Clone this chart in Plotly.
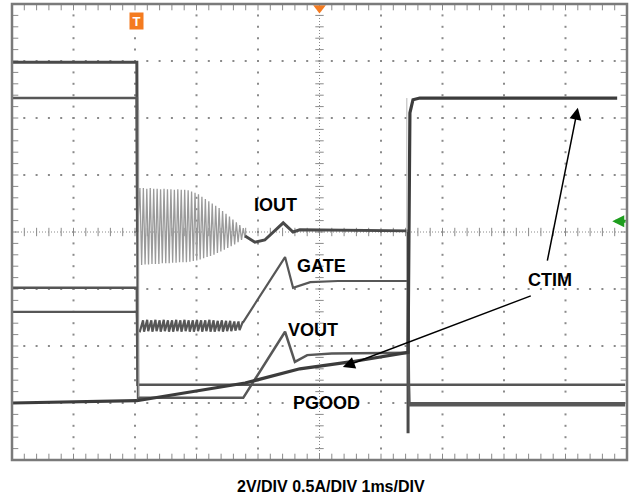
import numpy as np
import plotly.graph_objects as go

# ---------------- data (time in divisions of 1 ms, level in divisions) ----------------
T_TRIG = 2.03
T_STOP = 6.44

# IOUT
iout_pre_t = [0.00, 2.03, 2.04]
iout_pre_v = [2.98, 2.98, 0.00]
iout_osc_hi = [0.77, 0.77, 0.76, 0.77, 0.76, 0.76, 0.75, 0.76, 0.75, 0.75, 0.74, 0.75, 0.74, 0.74, 0.73,
               0.71, 0.69, 0.66, 0.62, 0.58, 0.54, 0.50, 0.46, 0.42, 0.37, 0.32, 0.27, 0.22, 0.17, 0.12, 0.07]
iout_osc_lo = [-0.58, -0.57, -0.57, -0.56, -0.56, -0.56, -0.55, -0.55, -0.55, -0.54, -0.54, -0.53, -0.53, -0.53, -0.52,
               -0.51, -0.50, -0.48, -0.46, -0.44, -0.42, -0.40, -0.37, -0.34, -0.31, -0.28, -0.25, -0.22, -0.18, -0.14, -0.10]
iout_post_t = [3.79, 3.95, 4.11, 4.41, 4.57, 4.68, 6.44, 6.44]
iout_post_v = [-0.07, -0.18, -0.14, 0.16, 0.00, 0.04, 0.02, -3.53]

# GATE
gate_pre_t = [0.00, 2.03, 2.04]
gate_pre_v = [-1.40, -1.40, -1.72]
gate_saw_hi = [-1.55, -1.54, -1.55, -1.54, -1.55, -1.54, -1.55, -1.55, -1.54, -1.55, -1.54, -1.55, -1.55,
               -1.54, -1.55, -1.55, -1.54, -1.55, -1.56, -1.55, -1.56, -1.56, -1.57, -1.57, -1.58]
gate_saw_lo = [-1.74, -1.75, -1.74, -1.75, -1.74, -1.75, -1.74, -1.75, -1.75, -1.74, -1.75, -1.74, -1.75,
               -1.75, -1.74, -1.75, -1.74, -1.75, -1.75, -1.74, -1.75, -1.74, -1.74, -1.73, -1.72]
gate_post_t = [3.76, 4.44, 4.57, 4.85, 5.30, 6.44, 6.46, 9.97]
gate_post_v = [-1.58, -0.44, -0.98, -0.88, -0.86, -0.86, -3.00, -3.00]

# VOUT
vout_t = [0.00, 2.03, 2.05, 3.76, 4.44, 4.60, 4.80, 5.20, 6.44, 6.46, 9.97]
vout_v = [2.35, 2.35, -2.91, -2.91, -1.75, -2.28, -2.16, -2.13, -2.12, -3.04, -3.04]

# PGOOD
pgood_t = [0.00, 2.03, 2.04, 9.97]
pgood_v = [-0.98, -0.98, -2.68, -2.68]

# CTIM
ctim_t = [0.00, 2.03, 3.79, 4.68, 5.50, 6.44, 6.47, 6.52, 6.63, 9.84]
ctim_v = [-3.00, -2.96, -2.65, -2.40, -2.28, -2.11, 2.09, 2.32, 2.35, 2.35]

labels = ["IOUT", "GATE", "VOUT", "PGOOD", "CTIM"]
label_t = [4.28, 5.04, 4.89, 5.11, 8.75]
label_v = [0.47, -0.60, -1.72, -3.00, -0.84]

caption = "2V/DIV 0.5A/DIV 1ms/DIV"

# ---------------- build ----------------
TRACE = "#4a4a4a"
GRID = "#8a8a8a"

fig = go.Figure()

# grid dots on major divisions
gx, gy = [], []
minor_x = np.arange(0, 10.001, 0.2)
minor_y = np.arange(-4, 4.001, 0.2)
for xv in range(1, 10):
    if xv == 5:
        continue
    gx += [xv] * len(minor_y)
    gy += list(minor_y)
for yv in range(-3, 4):
    if yv == 0:
        continue
    gx += list(minor_x)
    gy += [yv] * len(minor_x)
fig.add_trace(go.Scatter(x=gx, y=gy, mode="markers",
                         marker=dict(symbol="square", size=2, color=GRID, line=dict(width=0)),
                         hoverinfo="skip", showlegend=False))

# centre-line ticks
fig.add_trace(go.Scatter(x=[5] * len(minor_y), y=list(minor_y), mode="markers",
                         marker=dict(symbol="line-ew", size=6, line=dict(width=1, color=GRID)),
                         hoverinfo="skip", showlegend=False))
fig.add_trace(go.Scatter(x=list(minor_x), y=[0] * len(minor_x), mode="markers",
                         marker=dict(symbol="line-ns", size=6, line=dict(width=1, color=GRID)),
                         hoverinfo="skip", showlegend=False))
# frame ticks
fig.add_trace(go.Scatter(x=[0] * len(minor_y) + [10] * len(minor_y), y=list(minor_y) * 2, mode="markers",
                         marker=dict(symbol="line-ew", size=9, line=dict(width=1, color=GRID)),
                         hoverinfo="skip", showlegend=False))
fig.add_trace(go.Scatter(x=list(minor_x) * 2, y=[4] * len(minor_x) + [-4] * len(minor_x), mode="markers",
                         marker=dict(symbol="line-ns", size=9, line=dict(width=1, color=GRID)),
                         hoverinfo="skip", showlegend=False))

def line(t, v, color=TRACE, width=2.5):
    fig.add_trace(go.Scatter(x=t, y=v, mode="lines", line=dict(color=color, width=width),
                             hoverinfo="skip", showlegend=False))

# IOUT oscillation
n = len(iout_osc_hi)
tt = np.linspace(2.08, 3.76, n)
half = (tt[1] - tt[0]) / 2
osc_t, osc_v = [2.04], [0.0]
for i in range(n):
    osc_t += [tt[i], tt[i] + half]
    osc_v += [iout_osc_hi[i], iout_osc_lo[i]]
osc_t.append(3.79)
osc_v.append(-0.07)
line(osc_t, osc_v, color="#9a9a9a", width=1.3)

line(iout_pre_t, iout_pre_v, width=3)
line(iout_post_t, iout_post_v, width=3)

# GATE with sawtooth
m = len(gate_saw_hi)
st = np.linspace(2.08, 3.70, m)
per = st[1] - st[0]
g_t = list(gate_pre_t)
g_v = list(gate_pre_v)
for i in range(m):
    g_t += [st[i], st[i] + 0.75 * per]
    g_v += [gate_saw_lo[i], gate_saw_hi[i]]
g_t += gate_post_t
g_v += gate_post_v
line(g_t, g_v, color="#575757", width=2.2)

line(vout_t, vout_v, color="#575757", width=2.5)
line(pgood_t, pgood_v, color="#555555", width=2.5)
line(ctim_t, ctim_v, color="#3c3c3c", width=3.2)

# faint edge traces
line([6.42, 6.42], [2.35, 0.0], color="#b5b5b5", width=1)
line([2.06, 2.06], [2.14, -2.9], color="#a0a0a0", width=1)

# top orange marker
fig.add_trace(go.Scatter(x=[5.0], y=[3.93], mode="markers", cliponaxis=False,
                         marker=dict(symbol="triangle-down", size=11, color="#F47B20"),
                         hoverinfo="skip", showlegend=False))

annotations = []
for txt, tx, ty in zip(labels, label_t, label_v):
    annotations.append(dict(x=tx, y=ty, xref="x", yref="y", text="<b>%s</b>" % txt, showarrow=False,
                            font=dict(family="Liberation Sans, Arial", size=18, color="#000000")))

# CTIM arrows
annotations.append(dict(x=9.20, y=2.18, ax=8.70, ay=-0.53, xref="x", yref="y", axref="x", ayref="y",
                        text="", showarrow=True, arrowhead=2, arrowsize=1.6, arrowwidth=1.5, arrowcolor="#000000"))
annotations.append(dict(x=5.38, y=-2.37, ax=8.46, ay=-1.11, xref="x", yref="y", axref="x", ayref="y",
                        text="", showarrow=True, arrowhead=2, arrowsize=1.6, arrowwidth=1.5, arrowcolor="#000000"))
# green ground arrow
annotations.append(dict(x=9.76, y=0.19, ax=10.0, ay=0.19, xref="x", yref="y", axref="x", ayref="y",
                        text="", showarrow=True, arrowhead=2, arrowsize=0.8, arrowwidth=3, arrowcolor="#1e9e1e"))
# trigger marker
annotations.append(dict(x=T_TRIG, y=3.70, xref="x", yref="y", text="<b>T</b>", showarrow=False,
                        font=dict(family="Liberation Sans, Arial", size=13, color="#ffffff"),
                        bgcolor="#F47B20", width=13, height=16, borderpad=0))
# caption
annotations.append(dict(x=0.519, y=-0.059, xref="paper", yref="paper", text="<b>%s</b>" % caption,
                        showarrow=False, yanchor="middle",
                        font=dict(family="Liberation Sans, Arial", size=16, color="#000000")))

shapes = [
    dict(type="line", xref="x", yref="y", x0=5, x1=5, y0=-4, y1=4,
         line=dict(color=GRID, width=1, dash="1px,2px"), layer="below"),
    dict(type="line", xref="x", yref="y", x0=0, x1=10, y0=0, y1=0,
         line=dict(color=GRID, width=1, dash="1px,2px"), layer="below"),
    dict(type="rect", xref="paper", yref="paper", x0=0, x1=1, y0=0, y1=1,
         line=dict(color="#7a7a7a", width=2.5)),
]

fig.update_layout(
    width=631, height=503,
    margin=dict(l=12, r=4, t=4, b=43),
    paper_bgcolor="#ffffff", plot_bgcolor="#ffffff",
    xaxis=dict(range=[0, 10], showgrid=False, zeroline=False, showticklabels=False, fixedrange=True),
    yaxis=dict(range=[-4, 4], showgrid=False, zeroline=False, showticklabels=False, fixedrange=True),
    annotations=annotations, shapes=shapes, showlegend=False,
)

fig.write_html("out.html", config={"displayModeBar": False},
               post_script="document.body.style.margin='0';")
